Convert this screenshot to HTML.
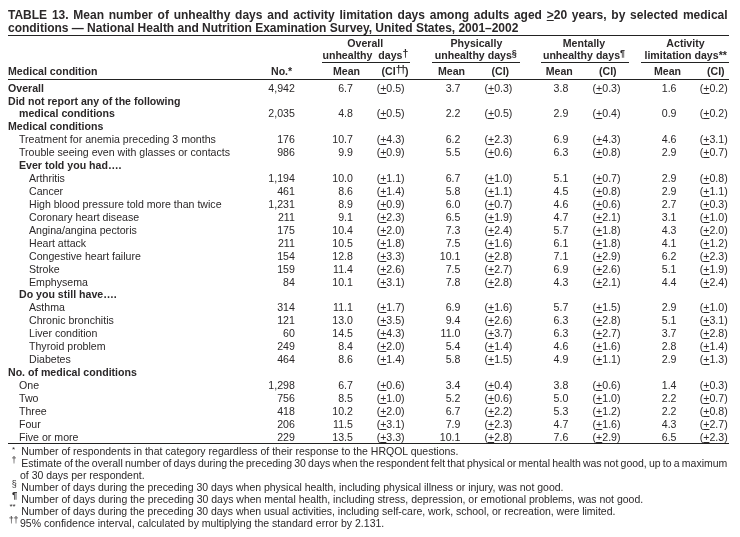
<!DOCTYPE html>
<html><head><meta charset="utf-8"><title>Table 13</title>
<style>
html,body{margin:0;padding:0;background:#fff;}
body{width:740px;height:537px;position:relative;overflow:hidden;font-family:"Liberation Sans",sans-serif;color:#2b2829;font-size:10.6px;}
.r{position:absolute;white-space:nowrap;line-height:13px;height:13px;}
.b{font-weight:bold;}
.n{text-align:right;}
u{text-decoration:underline;text-underline-offset:1px;text-decoration-thickness:1px;}
.hl{position:absolute;background:#222;height:1px;}
.t{position:absolute;left:8px;width:719.6px;font-weight:bold;font-size:12px;line-height:14px;text-align:justify;text-align-last:justify;}
.h{position:absolute;font-weight:bold;white-space:nowrap;line-height:13px;text-align:center;}
sup{font-size:10.5px;font-weight:bold;line-height:0;vertical-align:baseline;position:relative;top:-2.5px;letter-spacing:-1.2px;}
sup.s{font-weight:bold;font-size:9px;letter-spacing:0;top:-3px;}
.f{position:absolute;white-space:nowrap;line-height:13px;font-size:10.5px;letter-spacing:-0.013px;}
.fm{position:absolute;white-space:nowrap;line-height:13px;font-size:10.5px;}
</style></head><body>
<div class="t" style="top:8px;">TABLE 13. Mean number of unhealthy days and activity limitation days among adults aged <u>&gt;</u>20 years, by selected medical</div>
<div class="t" style="top:21px;text-align:left;text-align-last:left;letter-spacing:-0.018px;">conditions — National Health and Nutrition Examination Survey, United States, 2001–2002</div>
<div class="hl" style="left:8px;width:720.6px;top:35px;"></div>

<div class="h" style="left:321.3px;width:88px;top:37px;">Overall</div>
<div class="h" style="left:320.8px;width:88px;top:49px;">unhealthy&nbsp; days<sup>†</sup></div>
<div class="h" style="left:431.4px;width:90px;top:37px;">Physically</div>
<div class="h" style="left:430.8px;width:90px;top:49px;">unhealthy days<sup class="s">§</sup></div>
<div class="h" style="left:539px;width:90px;top:37px;">Mentally</div>
<div class="h" style="left:539px;width:90px;top:49px;">unhealthy days<sup class="s">¶</sup></div>
<div class="h" style="left:641.5px;width:88px;top:37px;">Activity</div>
<div class="h" style="left:641.7px;width:88px;top:49px;">limitation days**</div>
<div class="hl" style="left:322px;width:88px;top:62px;"></div>
<div class="hl" style="left:432px;width:88px;top:62px;"></div>
<div class="hl" style="left:541px;width:88px;top:62px;"></div>
<div class="hl" style="left:641px;width:87.6px;top:62px;"></div>

<div class="h" style="left:8px;top:65px;text-align:left;">Medical condition</div>
<div class="h" style="left:271px;top:65px;">No.*</div>
<div class="h" style="left:333px;top:65px;">Mean</div>
<div class="h" style="left:381.5px;top:65px;">(CI<sup>††</sup>)</div>
<div class="h" style="left:438px;top:65px;">Mean</div>
<div class="h" style="left:491.5px;top:65px;">(CI)</div>
<div class="h" style="left:545.7px;top:65px;">Mean</div>
<div class="h" style="left:599px;top:65px;">(CI)</div>
<div class="h" style="left:654px;top:65px;">Mean</div>
<div class="h" style="left:707px;top:65px;">(CI)</div>
<div class="hl" style="left:8px;width:720.6px;top:79px;"></div>

<div class="r b" style="top:82.00px;left:8px">Overall</div>
<div class="r n" style="top:82.00px;right:445.2px">4,942</div>
<div class="r n" style="top:82.00px;right:387.1px">6.7</div>
<div class="r n" style="top:82.00px;right:335.4px">(<u>+</u>0.5)</div>
<div class="r n" style="top:82.00px;right:279.6px">3.7</div>
<div class="r n" style="top:82.00px;right:227.60000000000002px">(<u>+</u>0.3)</div>
<div class="r n" style="top:82.00px;right:171.70000000000005px">3.8</div>
<div class="r n" style="top:82.00px;right:119.5px">(<u>+</u>0.3)</div>
<div class="r n" style="top:82.00px;right:63.5px">1.6</div>
<div class="r n" style="top:82.00px;right:12.299999999999955px">(<u>+</u>0.2)</div>
<div class="r b" style="top:95.00px;left:8px">Did not report any of the following</div>
<div class="r b" style="top:107.00px;left:19px">medical conditions</div>
<div class="r n" style="top:107.00px;right:445.2px">2,035</div>
<div class="r n" style="top:107.00px;right:387.1px">4.8</div>
<div class="r n" style="top:107.00px;right:335.4px">(<u>+</u>0.5)</div>
<div class="r n" style="top:107.00px;right:279.6px">2.2</div>
<div class="r n" style="top:107.00px;right:227.60000000000002px">(<u>+</u>0.5)</div>
<div class="r n" style="top:107.00px;right:171.70000000000005px">2.9</div>
<div class="r n" style="top:107.00px;right:119.5px">(<u>+</u>0.4)</div>
<div class="r n" style="top:107.00px;right:63.5px">0.9</div>
<div class="r n" style="top:107.00px;right:12.299999999999955px">(<u>+</u>0.2)</div>
<div class="r b" style="top:120.00px;left:8px">Medical conditions</div>
<div class="r" style="top:133.00px;left:19px">Treatment for anemia preceding 3 months</div>
<div class="r n" style="top:133.00px;right:445.2px">176</div>
<div class="r n" style="top:133.00px;right:387.1px">10.7</div>
<div class="r n" style="top:133.00px;right:335.4px">(<u>+</u>4.3)</div>
<div class="r n" style="top:133.00px;right:279.6px">6.2</div>
<div class="r n" style="top:133.00px;right:227.60000000000002px">(<u>+</u>2.3)</div>
<div class="r n" style="top:133.00px;right:171.70000000000005px">6.9</div>
<div class="r n" style="top:133.00px;right:119.5px">(<u>+</u>4.3)</div>
<div class="r n" style="top:133.00px;right:63.5px">4.6</div>
<div class="r n" style="top:133.00px;right:12.299999999999955px">(<u>+</u>3.1)</div>
<div class="r" style="top:146.00px;left:19px">Trouble seeing even with glasses or contacts</div>
<div class="r n" style="top:146.00px;right:445.2px">986</div>
<div class="r n" style="top:146.00px;right:387.1px">9.9</div>
<div class="r n" style="top:146.00px;right:335.4px">(<u>+</u>0.9)</div>
<div class="r n" style="top:146.00px;right:279.6px">5.5</div>
<div class="r n" style="top:146.00px;right:227.60000000000002px">(<u>+</u>0.6)</div>
<div class="r n" style="top:146.00px;right:171.70000000000005px">6.3</div>
<div class="r n" style="top:146.00px;right:119.5px">(<u>+</u>0.8)</div>
<div class="r n" style="top:146.00px;right:63.5px">2.9</div>
<div class="r n" style="top:146.00px;right:12.299999999999955px">(<u>+</u>0.7)</div>
<div class="r b" style="top:159.00px;left:19px">Ever told you had….</div>
<div class="r" style="top:172.00px;left:29px">Arthritis</div>
<div class="r n" style="top:172.00px;right:445.2px">1,194</div>
<div class="r n" style="top:172.00px;right:387.1px">10.0</div>
<div class="r n" style="top:172.00px;right:335.4px">(<u>+</u>1.1)</div>
<div class="r n" style="top:172.00px;right:279.6px">6.7</div>
<div class="r n" style="top:172.00px;right:227.60000000000002px">(<u>+</u>1.0)</div>
<div class="r n" style="top:172.00px;right:171.70000000000005px">5.1</div>
<div class="r n" style="top:172.00px;right:119.5px">(<u>+</u>0.7)</div>
<div class="r n" style="top:172.00px;right:63.5px">2.9</div>
<div class="r n" style="top:172.00px;right:12.299999999999955px">(<u>+</u>0.8)</div>
<div class="r" style="top:185.00px;left:29px">Cancer</div>
<div class="r n" style="top:185.00px;right:445.2px">461</div>
<div class="r n" style="top:185.00px;right:387.1px">8.6</div>
<div class="r n" style="top:185.00px;right:335.4px">(<u>+</u>1.4)</div>
<div class="r n" style="top:185.00px;right:279.6px">5.8</div>
<div class="r n" style="top:185.00px;right:227.60000000000002px">(<u>+</u>1.1)</div>
<div class="r n" style="top:185.00px;right:171.70000000000005px">4.5</div>
<div class="r n" style="top:185.00px;right:119.5px">(<u>+</u>0.8)</div>
<div class="r n" style="top:185.00px;right:63.5px">2.9</div>
<div class="r n" style="top:185.00px;right:12.299999999999955px">(<u>+</u>1.1)</div>
<div class="r" style="top:198.00px;left:29px">High blood pressure told more than twice</div>
<div class="r n" style="top:198.00px;right:445.2px">1,231</div>
<div class="r n" style="top:198.00px;right:387.1px">8.9</div>
<div class="r n" style="top:198.00px;right:335.4px">(<u>+</u>0.9)</div>
<div class="r n" style="top:198.00px;right:279.6px">6.0</div>
<div class="r n" style="top:198.00px;right:227.60000000000002px">(<u>+</u>0.7)</div>
<div class="r n" style="top:198.00px;right:171.70000000000005px">4.6</div>
<div class="r n" style="top:198.00px;right:119.5px">(<u>+</u>0.6)</div>
<div class="r n" style="top:198.00px;right:63.5px">2.7</div>
<div class="r n" style="top:198.00px;right:12.299999999999955px">(<u>+</u>0.3)</div>
<div class="r" style="top:211.00px;left:29px">Coronary heart disease</div>
<div class="r n" style="top:211.00px;right:445.2px">211</div>
<div class="r n" style="top:211.00px;right:387.1px">9.1</div>
<div class="r n" style="top:211.00px;right:335.4px">(<u>+</u>2.3)</div>
<div class="r n" style="top:211.00px;right:279.6px">6.5</div>
<div class="r n" style="top:211.00px;right:227.60000000000002px">(<u>+</u>1.9)</div>
<div class="r n" style="top:211.00px;right:171.70000000000005px">4.7</div>
<div class="r n" style="top:211.00px;right:119.5px">(<u>+</u>2.1)</div>
<div class="r n" style="top:211.00px;right:63.5px">3.1</div>
<div class="r n" style="top:211.00px;right:12.299999999999955px">(<u>+</u>1.0)</div>
<div class="r" style="top:224.00px;left:29px">Angina/angina pectoris</div>
<div class="r n" style="top:224.00px;right:445.2px">175</div>
<div class="r n" style="top:224.00px;right:387.1px">10.4</div>
<div class="r n" style="top:224.00px;right:335.4px">(<u>+</u>2.0)</div>
<div class="r n" style="top:224.00px;right:279.6px">7.3</div>
<div class="r n" style="top:224.00px;right:227.60000000000002px">(<u>+</u>2.4)</div>
<div class="r n" style="top:224.00px;right:171.70000000000005px">5.7</div>
<div class="r n" style="top:224.00px;right:119.5px">(<u>+</u>1.8)</div>
<div class="r n" style="top:224.00px;right:63.5px">4.3</div>
<div class="r n" style="top:224.00px;right:12.299999999999955px">(<u>+</u>2.0)</div>
<div class="r" style="top:237.00px;left:29px">Heart attack</div>
<div class="r n" style="top:237.00px;right:445.2px">211</div>
<div class="r n" style="top:237.00px;right:387.1px">10.5</div>
<div class="r n" style="top:237.00px;right:335.4px">(<u>+</u>1.8)</div>
<div class="r n" style="top:237.00px;right:279.6px">7.5</div>
<div class="r n" style="top:237.00px;right:227.60000000000002px">(<u>+</u>1.6)</div>
<div class="r n" style="top:237.00px;right:171.70000000000005px">6.1</div>
<div class="r n" style="top:237.00px;right:119.5px">(<u>+</u>1.8)</div>
<div class="r n" style="top:237.00px;right:63.5px">4.1</div>
<div class="r n" style="top:237.00px;right:12.299999999999955px">(<u>+</u>1.2)</div>
<div class="r" style="top:250.00px;left:29px">Congestive heart failure</div>
<div class="r n" style="top:250.00px;right:445.2px">154</div>
<div class="r n" style="top:250.00px;right:387.1px">12.8</div>
<div class="r n" style="top:250.00px;right:335.4px">(<u>+</u>3.3)</div>
<div class="r n" style="top:250.00px;right:279.6px">10.1</div>
<div class="r n" style="top:250.00px;right:227.60000000000002px">(<u>+</u>2.8)</div>
<div class="r n" style="top:250.00px;right:171.70000000000005px">7.1</div>
<div class="r n" style="top:250.00px;right:119.5px">(<u>+</u>2.9)</div>
<div class="r n" style="top:250.00px;right:63.5px">6.2</div>
<div class="r n" style="top:250.00px;right:12.299999999999955px">(<u>+</u>2.3)</div>
<div class="r" style="top:263.00px;left:29px">Stroke</div>
<div class="r n" style="top:263.00px;right:445.2px">159</div>
<div class="r n" style="top:263.00px;right:387.1px">11.4</div>
<div class="r n" style="top:263.00px;right:335.4px">(<u>+</u>2.6)</div>
<div class="r n" style="top:263.00px;right:279.6px">7.5</div>
<div class="r n" style="top:263.00px;right:227.60000000000002px">(<u>+</u>2.7)</div>
<div class="r n" style="top:263.00px;right:171.70000000000005px">6.9</div>
<div class="r n" style="top:263.00px;right:119.5px">(<u>+</u>2.6)</div>
<div class="r n" style="top:263.00px;right:63.5px">5.1</div>
<div class="r n" style="top:263.00px;right:12.299999999999955px">(<u>+</u>1.9)</div>
<div class="r" style="top:276.00px;left:29px">Emphysema</div>
<div class="r n" style="top:276.00px;right:445.2px">84</div>
<div class="r n" style="top:276.00px;right:387.1px">10.1</div>
<div class="r n" style="top:276.00px;right:335.4px">(<u>+</u>3.1)</div>
<div class="r n" style="top:276.00px;right:279.6px">7.8</div>
<div class="r n" style="top:276.00px;right:227.60000000000002px">(<u>+</u>2.8)</div>
<div class="r n" style="top:276.00px;right:171.70000000000005px">4.3</div>
<div class="r n" style="top:276.00px;right:119.5px">(<u>+</u>2.1)</div>
<div class="r n" style="top:276.00px;right:63.5px">4.4</div>
<div class="r n" style="top:276.00px;right:12.299999999999955px">(<u>+</u>2.4)</div>
<div class="r b" style="top:288.00px;left:19px">Do you still have….</div>
<div class="r" style="top:301.00px;left:29px">Asthma</div>
<div class="r n" style="top:301.00px;right:445.2px">314</div>
<div class="r n" style="top:301.00px;right:387.1px">11.1</div>
<div class="r n" style="top:301.00px;right:335.4px">(<u>+</u>1.7)</div>
<div class="r n" style="top:301.00px;right:279.6px">6.9</div>
<div class="r n" style="top:301.00px;right:227.60000000000002px">(<u>+</u>1.6)</div>
<div class="r n" style="top:301.00px;right:171.70000000000005px">5.7</div>
<div class="r n" style="top:301.00px;right:119.5px">(<u>+</u>1.5)</div>
<div class="r n" style="top:301.00px;right:63.5px">2.9</div>
<div class="r n" style="top:301.00px;right:12.299999999999955px">(<u>+</u>1.0)</div>
<div class="r" style="top:314.00px;left:29px">Chronic bronchitis</div>
<div class="r n" style="top:314.00px;right:445.2px">121</div>
<div class="r n" style="top:314.00px;right:387.1px">13.0</div>
<div class="r n" style="top:314.00px;right:335.4px">(<u>+</u>3.5)</div>
<div class="r n" style="top:314.00px;right:279.6px">9.4</div>
<div class="r n" style="top:314.00px;right:227.60000000000002px">(<u>+</u>2.6)</div>
<div class="r n" style="top:314.00px;right:171.70000000000005px">6.3</div>
<div class="r n" style="top:314.00px;right:119.5px">(<u>+</u>2.8)</div>
<div class="r n" style="top:314.00px;right:63.5px">5.1</div>
<div class="r n" style="top:314.00px;right:12.299999999999955px">(<u>+</u>3.1)</div>
<div class="r" style="top:327.00px;left:29px">Liver condition</div>
<div class="r n" style="top:327.00px;right:445.2px">60</div>
<div class="r n" style="top:327.00px;right:387.1px">14.5</div>
<div class="r n" style="top:327.00px;right:335.4px">(<u>+</u>4.3)</div>
<div class="r n" style="top:327.00px;right:279.6px">11.0</div>
<div class="r n" style="top:327.00px;right:227.60000000000002px">(<u>+</u>3.7)</div>
<div class="r n" style="top:327.00px;right:171.70000000000005px">6.3</div>
<div class="r n" style="top:327.00px;right:119.5px">(<u>+</u>2.7)</div>
<div class="r n" style="top:327.00px;right:63.5px">3.7</div>
<div class="r n" style="top:327.00px;right:12.299999999999955px">(<u>+</u>2.8)</div>
<div class="r" style="top:340.00px;left:29px">Thyroid problem</div>
<div class="r n" style="top:340.00px;right:445.2px">249</div>
<div class="r n" style="top:340.00px;right:387.1px">8.4</div>
<div class="r n" style="top:340.00px;right:335.4px">(<u>+</u>2.0)</div>
<div class="r n" style="top:340.00px;right:279.6px">5.4</div>
<div class="r n" style="top:340.00px;right:227.60000000000002px">(<u>+</u>1.4)</div>
<div class="r n" style="top:340.00px;right:171.70000000000005px">4.6</div>
<div class="r n" style="top:340.00px;right:119.5px">(<u>+</u>1.6)</div>
<div class="r n" style="top:340.00px;right:63.5px">2.8</div>
<div class="r n" style="top:340.00px;right:12.299999999999955px">(<u>+</u>1.4)</div>
<div class="r" style="top:353.00px;left:29px">Diabetes</div>
<div class="r n" style="top:353.00px;right:445.2px">464</div>
<div class="r n" style="top:353.00px;right:387.1px">8.6</div>
<div class="r n" style="top:353.00px;right:335.4px">(<u>+</u>1.4)</div>
<div class="r n" style="top:353.00px;right:279.6px">5.8</div>
<div class="r n" style="top:353.00px;right:227.60000000000002px">(<u>+</u>1.5)</div>
<div class="r n" style="top:353.00px;right:171.70000000000005px">4.9</div>
<div class="r n" style="top:353.00px;right:119.5px">(<u>+</u>1.1)</div>
<div class="r n" style="top:353.00px;right:63.5px">2.9</div>
<div class="r n" style="top:353.00px;right:12.299999999999955px">(<u>+</u>1.3)</div>
<div class="r b" style="top:366.00px;left:8px">No. of medical conditions</div>
<div class="r" style="top:379.00px;left:19px">One</div>
<div class="r n" style="top:379.00px;right:445.2px">1,298</div>
<div class="r n" style="top:379.00px;right:387.1px">6.7</div>
<div class="r n" style="top:379.00px;right:335.4px">(<u>+</u>0.6)</div>
<div class="r n" style="top:379.00px;right:279.6px">3.4</div>
<div class="r n" style="top:379.00px;right:227.60000000000002px">(<u>+</u>0.4)</div>
<div class="r n" style="top:379.00px;right:171.70000000000005px">3.8</div>
<div class="r n" style="top:379.00px;right:119.5px">(<u>+</u>0.6)</div>
<div class="r n" style="top:379.00px;right:63.5px">1.4</div>
<div class="r n" style="top:379.00px;right:12.299999999999955px">(<u>+</u>0.3)</div>
<div class="r" style="top:392.00px;left:19px">Two</div>
<div class="r n" style="top:392.00px;right:445.2px">756</div>
<div class="r n" style="top:392.00px;right:387.1px">8.5</div>
<div class="r n" style="top:392.00px;right:335.4px">(<u>+</u>1.0)</div>
<div class="r n" style="top:392.00px;right:279.6px">5.2</div>
<div class="r n" style="top:392.00px;right:227.60000000000002px">(<u>+</u>0.6)</div>
<div class="r n" style="top:392.00px;right:171.70000000000005px">5.0</div>
<div class="r n" style="top:392.00px;right:119.5px">(<u>+</u>1.0)</div>
<div class="r n" style="top:392.00px;right:63.5px">2.2</div>
<div class="r n" style="top:392.00px;right:12.299999999999955px">(<u>+</u>0.7)</div>
<div class="r" style="top:405.00px;left:19px">Three</div>
<div class="r n" style="top:405.00px;right:445.2px">418</div>
<div class="r n" style="top:405.00px;right:387.1px">10.2</div>
<div class="r n" style="top:405.00px;right:335.4px">(<u>+</u>2.0)</div>
<div class="r n" style="top:405.00px;right:279.6px">6.7</div>
<div class="r n" style="top:405.00px;right:227.60000000000002px">(<u>+</u>2.2)</div>
<div class="r n" style="top:405.00px;right:171.70000000000005px">5.3</div>
<div class="r n" style="top:405.00px;right:119.5px">(<u>+</u>1.2)</div>
<div class="r n" style="top:405.00px;right:63.5px">2.2</div>
<div class="r n" style="top:405.00px;right:12.299999999999955px">(<u>+</u>0.8)</div>
<div class="r" style="top:418.00px;left:19px">Four</div>
<div class="r n" style="top:418.00px;right:445.2px">206</div>
<div class="r n" style="top:418.00px;right:387.1px">11.5</div>
<div class="r n" style="top:418.00px;right:335.4px">(<u>+</u>3.1)</div>
<div class="r n" style="top:418.00px;right:279.6px">7.9</div>
<div class="r n" style="top:418.00px;right:227.60000000000002px">(<u>+</u>2.3)</div>
<div class="r n" style="top:418.00px;right:171.70000000000005px">4.7</div>
<div class="r n" style="top:418.00px;right:119.5px">(<u>+</u>1.6)</div>
<div class="r n" style="top:418.00px;right:63.5px">4.3</div>
<div class="r n" style="top:418.00px;right:12.299999999999955px">(<u>+</u>2.7)</div>
<div class="r" style="top:431.00px;left:19px">Five or more</div>
<div class="r n" style="top:431.00px;right:445.2px">229</div>
<div class="r n" style="top:431.00px;right:387.1px">13.5</div>
<div class="r n" style="top:431.00px;right:335.4px">(<u>+</u>3.3)</div>
<div class="r n" style="top:431.00px;right:279.6px">10.1</div>
<div class="r n" style="top:431.00px;right:227.60000000000002px">(<u>+</u>2.8)</div>
<div class="r n" style="top:431.00px;right:171.70000000000005px">7.6</div>
<div class="r n" style="top:431.00px;right:119.5px">(<u>+</u>2.9)</div>
<div class="r n" style="top:431.00px;right:63.5px">6.5</div>
<div class="r n" style="top:431.00px;right:12.299999999999955px">(<u>+</u>2.3)</div>

<div class="hl" style="left:8px;width:721px;top:443px;"></div>
<div class="fm" style="left:12px;top:442.7px;font-size:8px;">*</div>
<div class="f" style="top:445px;left:21.2px;letter-spacing:0;">Number of respondents in that category regardless of their response to the HRQOL questions.</div>
<div class="fm" style="left:11.5px;top:454.4px;font-size:9px;">†</div>
<div class="f" style="top:457px;left:21.2px;word-spacing:-0.69px;">Estimate of the overall number of days during the preceding 30 days when the respondent felt that physical or mental health was not good, up to a maximum</div>
<div class="f" style="top:469px;left:20px;">of 30 days per respondent.</div>
<div class="fm" style="left:11.8px;top:478.4px;font-size:9px;">§</div>
<div class="f" style="top:481px;left:21.2px;">Number of days during the preceding 30 days when physical health, including physical illness or injury, was not good.</div>
<div class="fm" style="left:12px;top:488px;font-size:9.5px;font-weight:bold;">¶</div>
<div class="f" style="top:493px;left:21.2px;letter-spacing:-0.006px;">Number of days during the preceding 30 days when mental health, including stress, depression, or emotional problems, was not good.</div>
<div class="fm" style="left:9.5px;top:499.6px;font-size:8px;">**</div>
<div class="f" style="top:505px;left:21.2px;">Number of days during the preceding 30 days when usual activities, including self-care, work, school, or recreation, were limited.</div>
<div class="fm" style="left:8.8px;top:514.2px;font-size:9px;letter-spacing:-0.4px;">††</div>
<div class="f" style="top:517px;left:20px;letter-spacing:0.008px;">95% confidence interval, calculated by multiplying the standard error by 2.131.</div>
</body></html>
